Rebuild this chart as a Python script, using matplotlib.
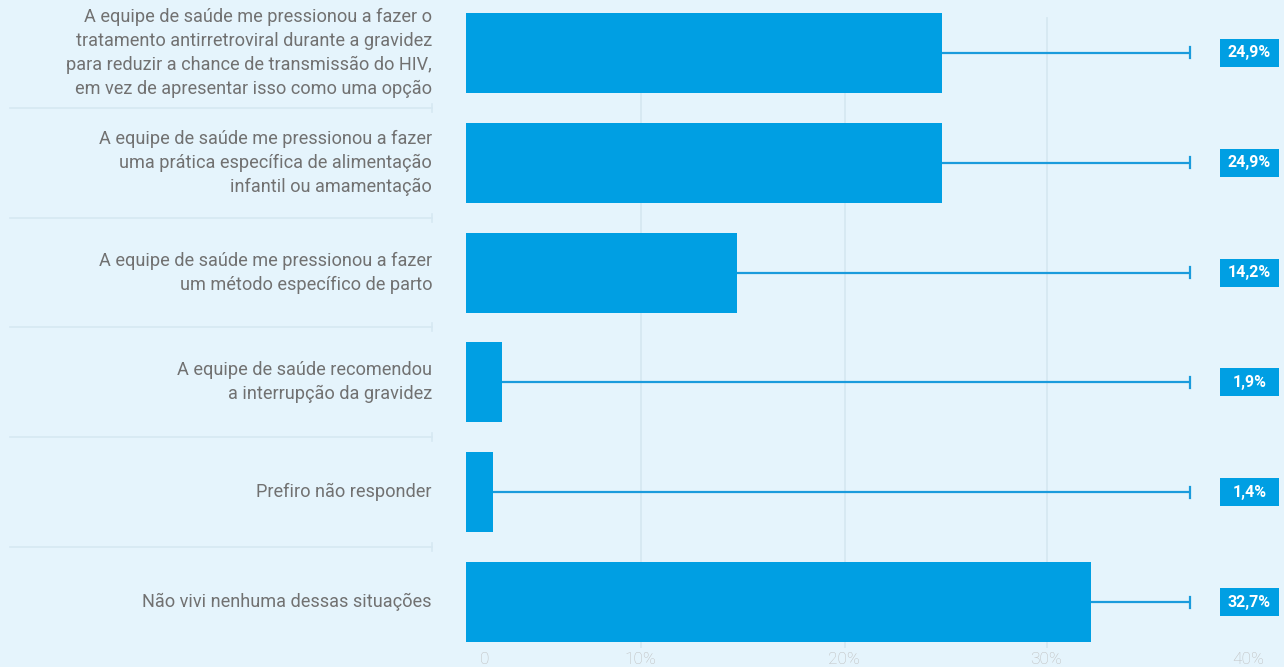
import matplotlib
matplotlib.use("Agg")
import matplotlib.pyplot as plt
from matplotlib.patches import Rectangle
from matplotlib.transforms import ScaledTranslation

categories = [
    "A equipe de saúde me pressionou a fazer o\ntratamento antirretroviral durante a gravidez\npara reduzir a chance de transmissão do HIV,\nem vez de apresentar isso como uma opção",
    "A equipe de saúde me pressionou a fazer\numa prática específica de alimentação\ninfantil ou amamentação",
    "A equipe de saúde me pressionou a fazer\num método específico de parto",
    "A equipe de saúde recomendou\na interrupção da gravidez",
    "Prefiro não responder",
    "Não vivi nenhuma dessas situações",
]
values = [24.9, 24.9, 14.2, 1.9, 1.4, 32.7]
value_labels = ["24,9%", "24,9%", "14,2%", "1,9%", "1,4%", "32,7%"]
xticks = [0, 10, 20, 30, 40]
xtick_labels = ["0", "10%", "20%", "30%", "40%"]

BG = "#E5F4FC"
BAR = "#009FE3"
GRID = "#D6E8F2"
TXT = "#717171"
TICK = "#BDBDBD"

plt.rcParams["font.family"] = ["Roboto", "DejaVu Sans"]

W, H = 1284, 667
fig = plt.figure(figsize=(W / 100, H / 100), dpi=100, facecolor=BG)

ax_left, ax_right = 466, 1230
ax_top, ax_bot = 0, 648
ax = fig.add_axes([ax_left / W, (H - ax_bot) / H, (ax_right - ax_left) / W, (ax_bot - ax_top) / H])
ax.set_facecolor(BG)

n = len(values)
ypos = list(range(n))
ax.set_xlim(0, 40)
ax.set_ylim(n - 1 + (ax_bot - 602) / 110, -53 / 110)

# pixel nudges for tick labels / grid to match the original placement
nudges = [19, -17, -4, 7, 18]
for x, d in zip(xticks[1:4], nudges[1:4]):
    ax.plot([x, x], [0, 1 - 18 / ax_bot], color=GRID, lw=1.3, zorder=0,
            transform=ax.get_xaxis_transform() + ScaledTranslation((d + 1) / 100, 0, fig.dpi_scale_trans))

ax.barh(ypos, values, height=80 / 110, color=BAR, zorder=2)

# whiskers to fixed right point
wx = (1190 - ax_left) / (ax_right - ax_left)
xend_data = 40 * wx
for y, v in zip(ypos, values):
    ax.plot([v, xend_data], [y, y], color="#1A9BDC", lw=1.6, zorder=3, solid_capstyle="butt")
    ax.plot([xend_data, xend_data], [y - 0.05, y + 0.05], color="#1A9BDC", lw=1.6, zorder=3)

for s in ax.spines.values():
    s.set_visible(False)
ax.set_yticks([])
ax.set_xticks(xticks)
ax.set_xticklabels(xtick_labels, color=TICK, fontsize=12.5, fontweight="light")
ax.tick_params(axis="x", length=0, pad=1.5)
for lab, d in zip(ax.get_xticklabels(), nudges):
    lab.set_transform(lab.get_transform() + ScaledTranslation(d / 100, -1.5 / 100, fig.dpi_scale_trans))

# value label boxes
for y, lab in zip(ypos, value_labels):
    yd = ax.transData.transform((0, y))[1]
    fig.add_artist(Rectangle((1220 / W, (yd - 14) / H), 59 / W, 28 / H,
                             transform=fig.transFigure, facecolor=BAR, edgecolor="none"))
    fig.text(1249.5 / W, yd / H, lab, ha="center", va="center", color="white",
             fontsize=11.5, fontweight="bold")

# category labels
for y, cat in zip(ypos, categories):
    yd = ax.transData.transform((0, y))[1]
    fig.text(432 / W, yd / H, cat, ha="right", va="center", color=TXT,
             fontsize=13.1, linespacing=1.42)

# separators
for i in range(n - 1):
    yd = ax.transData.transform((0, i + 0.5))[1] / H
    fig.add_artist(plt.Line2D([10 / W, 432 / W], [yd, yd], color=GRID, lw=1.2))
    fig.add_artist(plt.Line2D([432 / W, 432 / W], [yd - 4 / H, yd + 4 / H], color=GRID, lw=1.2))

fig.savefig("out.png", dpi=100, facecolor=BG)
